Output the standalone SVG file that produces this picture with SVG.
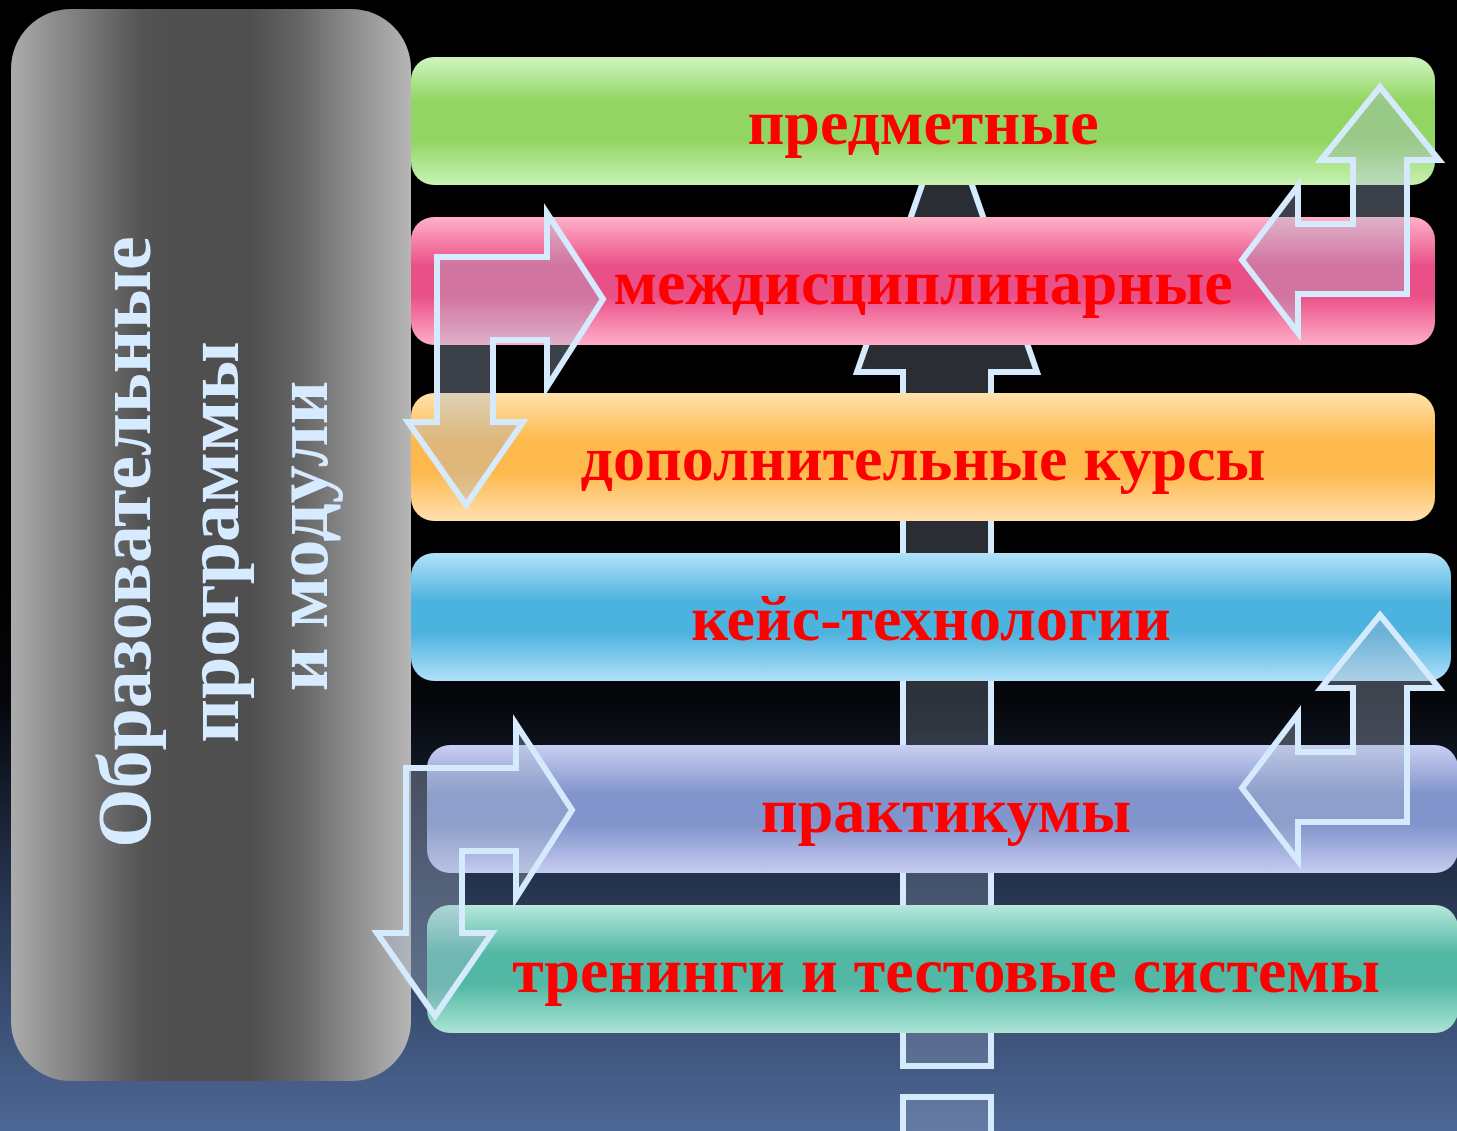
<svg xmlns="http://www.w3.org/2000/svg" width="1457" height="1131" viewBox="0 0 1457 1131">
<defs>
<linearGradient id="bg" x1="0" y1="0" x2="0" y2="1">
<stop offset="0" stop-color="#000"/><stop offset="0.5" stop-color="#000"/><stop offset="0.62" stop-color="#05070b"/><stop offset="0.78" stop-color="#25324c"/><stop offset="1" stop-color="#4d6896"/>
</linearGradient>
<linearGradient id="gray" x1="0" y1="0" x2="1" y2="0">
<stop offset="0" stop-color="#ababab"/><stop offset="0.22" stop-color="#707070"/><stop offset="0.32" stop-color="#555"/><stop offset="0.4" stop-color="#4f4f4f"/><stop offset="0.6" stop-color="#4f4f4f"/><stop offset="0.72" stop-color="#656565"/><stop offset="0.85" stop-color="#8c8c8c"/><stop offset="1" stop-color="#b6b6b6"/>
</linearGradient>
<linearGradient id="g1" x1="0" y1="0" x2="0" y2="1"><stop offset="0" stop-color="#d0f5c0"/><stop offset="0.35" stop-color="#92d562"/><stop offset="0.65" stop-color="#92d562"/><stop offset="1" stop-color="#c8f2b4"/></linearGradient>
<linearGradient id="g2" x1="0" y1="0" x2="0" y2="1"><stop offset="0" stop-color="#ffb2c8"/><stop offset="0.38" stop-color="#ea5088"/><stop offset="0.62" stop-color="#ea5088"/><stop offset="1" stop-color="#ffaec8"/></linearGradient>
<linearGradient id="g3" x1="0" y1="0" x2="0" y2="1"><stop offset="0" stop-color="#ffe2ac"/><stop offset="0.38" stop-color="#fdb94c"/><stop offset="0.62" stop-color="#fdb94c"/><stop offset="1" stop-color="#ffe0b0"/></linearGradient>
<linearGradient id="g4" x1="0" y1="0" x2="0" y2="1"><stop offset="0" stop-color="#b2e2f8"/><stop offset="0.38" stop-color="#4cb2de"/><stop offset="0.62" stop-color="#4cb2de"/><stop offset="1" stop-color="#b0e0f8"/></linearGradient>
<linearGradient id="g5" x1="0" y1="0" x2="0" y2="1"><stop offset="0" stop-color="#cad0f2"/><stop offset="0.38" stop-color="#8294cc"/><stop offset="0.62" stop-color="#8294cc"/><stop offset="1" stop-color="#c6ccef"/></linearGradient>
<linearGradient id="g6" x1="0" y1="0" x2="0" y2="1"><stop offset="0" stop-color="#b6e8dc"/><stop offset="0.38" stop-color="#52b8a4"/><stop offset="0.62" stop-color="#52b8a4"/><stop offset="1" stop-color="#aae4d4"/></linearGradient>
<polygon id="bentA" points="437,257 547,257 547,213 603,299 547,387 547,340 493,340 493,422 523,422 466,505 408,422 437,422"/>
<polygon id="bentB" points="1380,87 1439,160 1407,160 1407,294 1298,294 1298,333 1242,260 1298,186 1298,224 1353,224 1353,160 1321,160"/>
</defs>
<style>
.bar{stroke:none}
.lbl{font-family:"Liberation Serif","Times New Roman",serif;font-weight:bold;font-size:64px;fill:#ff0000;text-anchor:middle}
.vt{font-family:"Liberation Serif","Times New Roman",serif;font-weight:bold;font-size:76px;fill:#d6ebff;text-anchor:middle}
.arr{fill:#a6b4ca;fill-opacity:0.36;stroke:#d5eafd;stroke-width:6;stroke-linejoin:miter}
.arrc{fill:#a6b4ca;fill-opacity:0.25;stroke:#d5eafd;stroke-width:6;stroke-linejoin:miter}
</style>
<rect x="0" y="0" width="1457" height="1131" fill="url(#bg)"/>

<g id="connectors-back">
<polygon class="arrc" points="947,113 1037,372 991,372 991,1066 903,1066 903,372 857,372"/>
<rect class="arrc" x="903" y="1097" width="88" height="60"/>
</g>

<g id="node-main">
<rect x="11" y="9" width="400" height="1072" rx="60" fill="url(#gray)"/>
<text class="vt" transform="translate(150,542) rotate(-90)">Образовательные</text>
<text class="vt" transform="translate(238,542) rotate(-90)">программы</text>
<text class="vt" transform="translate(327,536) rotate(-90)">и модули</text>
</g>

<g id="node-predmetnye">
<rect class="bar" x="411" y="57" width="1024" height="128" rx="23" fill="url(#g1)"/>
<text class="lbl" x="923" y="144">предметные</text>
</g>
<g id="node-mezhdisc">
<rect class="bar" x="411" y="217" width="1024" height="128" rx="23" fill="url(#g2)"/>
<text class="lbl" x="923" y="304">междисциплинарные</text>
</g>
<g id="node-dop">
<rect class="bar" x="411" y="393" width="1024" height="128" rx="23" fill="url(#g3)"/>
<text class="lbl" x="923" y="480">дополнительные курсы</text>
</g>
<g id="node-keis">
<rect class="bar" x="411" y="553" width="1040" height="128" rx="23" fill="url(#g4)"/>
<text class="lbl" x="931" y="640">кейс-технологии</text>
</g>
<g id="node-prakt">
<rect class="bar" x="427" y="745" width="1031" height="128" rx="23" fill="url(#g5)"/>
<text class="lbl" x="946" y="832">практикумы</text>
</g>
<g id="node-trening">
<rect class="bar" x="427" y="905" width="1031" height="128" rx="23" fill="url(#g6)"/>
<text class="lbl" x="946" y="992">тренинги и тестовые системы</text>
</g>

<g id="connectors">
<use href="#bentA" class="arr"/>
<use href="#bentB" class="arr"/>
<use href="#bentB" class="arr" transform="translate(0,528)"/>
<use href="#bentA" class="arr" transform="translate(-31,511)"/>
</g>
</svg>
